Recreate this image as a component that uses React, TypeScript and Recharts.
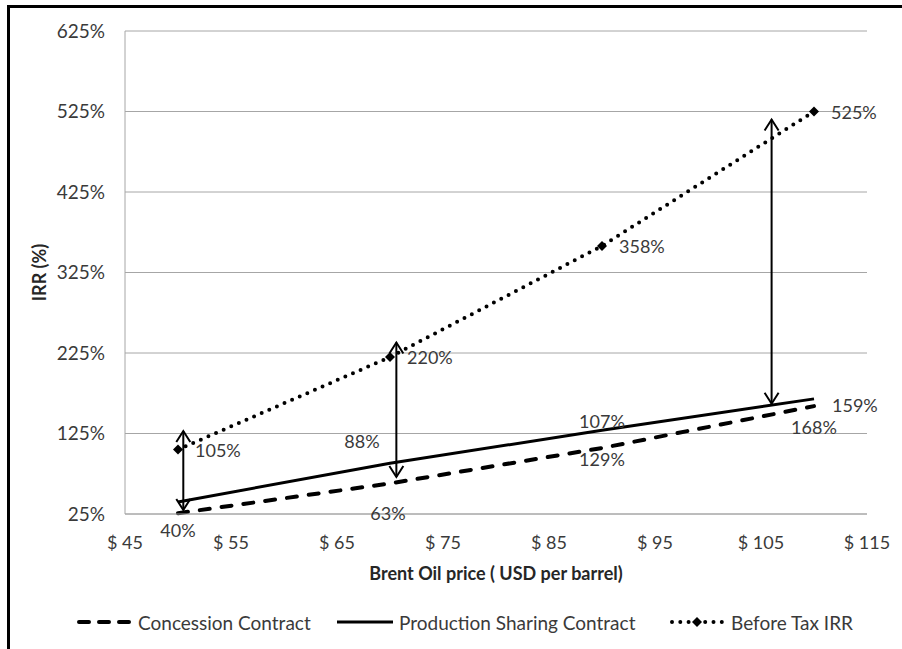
import {
  LineChart,
  Line,
  XAxis,
  YAxis,
  CartesianGrid,
  Legend,
  ReferenceLine,
} from "recharts"

const prices = [50, 70, 90, 110]
const concession = [26, 63, 107, 159]
const productionSharing = [40, 88, 129, 168]
const beforeTax = [105, 220, 358, 525]

const xTicks = [45, 55, 65, 75, 85, 95, 105, 115]
const yTicks = [25, 125, 225, 325, 425, 525, 625]

// double-headed arrows drawn between the curves (data coords)
const arrowX = [50.5, 70.6, 106]
const arrowTop = [128, 238, 515]
const arrowBottom = [30, 71, 162]

const data = prices.map((price, i) => ({
  price,
  concession: concession[i],
  psc: productionSharing[i],
  beforeTax: beforeTax[i],
}))

const FONT = "Lato, 'Open Sans', sans-serif"
const TEXT = "#3a3a3a"
const GRID = "#a6a6a6"

type LabelPos = { dx: number; dy: number; anchor: "start" | "middle" | "end" } | null

const concessionLabels: LabelPos[] = [
  null,
  { dx: -2, dy: 30, anchor: "middle" },
  { dx: 0, dy: -26, anchor: "middle" },
  { dx: 18, dy: 0, anchor: "start" },
]
const pscLabels: LabelPos[] = [
  { dx: 0, dy: 29, anchor: "middle" },
  { dx: -28, dy: -22, anchor: "middle" },
  { dx: 0, dy: 29, anchor: "middle" },
  { dx: 0, dy: 29, anchor: "middle" },
]
const beforeTaxLabels: LabelPos[] = [
  { dx: 17, dy: 1, anchor: "start" },
  { dx: 17, dy: 1, anchor: "start" },
  { dx: 17, dy: 1, anchor: "start" },
  { dx: 17, dy: 1, anchor: "start" },
]

const makeDot = (name: string, labels: LabelPos[], marker: boolean) => (props: any) => {
  const { cx, cy, index, value } = props
  const pos = labels[index]
  return (
    <g key={`${name}-${index}`}>
      {marker && (
        <path
          d={`M${cx},${cy - 5} L${cx + 5},${cy} L${cx},${cy + 5} L${cx - 5},${cy} Z`}
          fill="#000"
        />
      )}
      {pos && (
        <text
          x={cx + pos.dx}
          y={cy + pos.dy}
          dy="0.35em"
          textAnchor={pos.anchor}
          fill={TEXT}
          fontSize={18}
          fontFamily={FONT}
        >
          {value}%
        </text>
      )}
    </g>
  )
}

const arrowShape = (p: any) => {
  const { x1, y1, y2 } = p
  const top = Math.min(y1, y2)
  const bot = Math.max(y1, y2)
  return (
    <g>
      <line x1={x1} y1={top} x2={x1} y2={bot} stroke="#000" strokeWidth={2} />
      <polyline
        points={`${x1 - 7},${top + 11} ${x1},${top} ${x1 + 7},${top + 11}`}
        fill="none"
        stroke="#000"
        strokeWidth={2}
      />
      <polyline
        points={`${x1 - 7},${bot - 11} ${x1},${bot} ${x1 + 7},${bot - 11}`}
        fill="none"
        stroke="#000"
        strokeWidth={2}
      />
    </g>
  )
}

const yLabel = (props: any) => {
  const vb = props.viewBox || { x: 0, y: 31, width: 125, height: 483 }
  const cx = vb.x + 40
  const cy = vb.y + vb.height / 2
  return (
    <text
      x={cx}
      y={cy}
      transform={`rotate(-90, ${cx}, ${cy})`}
      textAnchor="middle"
      dy="0.35em"
      fontWeight="bold"
      fontSize={18}
      fontFamily={FONT}
      fill="#262626"
    >
      IRR (%)
    </text>
  )
}

function LegendSample({ kind }: { kind: "dash" | "solid" | "dot" }) {
  return (
    <svg width={56} height={30}>
      {kind === "dash" && (
        <line x1={3} y1={15} x2={53} y2={15} stroke="#000" strokeWidth={4} strokeDasharray="10 10" strokeLinecap="round" />
      )}
      {kind === "solid" && <line x1={0} y1={15} x2={56} y2={15} stroke="#000" strokeWidth={3} />}
      {kind === "dot" && (
        <g>
          <line x1={3} y1={15} x2={53} y2={15} stroke="#000" strokeWidth={4} strokeDasharray="0 8.3" strokeLinecap="round" />
          <path d="M28,10 L33,15 L28,20 L23,15 Z" fill="#000" />
        </g>
      )}
    </svg>
  )
}

const legendItems: { left: number; kind: "dash" | "solid" | "dot"; label: string }[] = [
  { left: 76, kind: "dash", label: "Concession Contract" },
  { left: 337, kind: "solid", label: "Production Sharing Contract" },
  { left: 669, kind: "dot", label: "Before Tax IRR" },
]

const renderLegend = () => (
  <div style={{ position: "relative", width: 902, height: 30, fontFamily: FONT, fontSize: 19, color: TEXT }}>
    {legendItems.map((it) => (
      <div
        key={it.label}
        style={{ position: "absolute", left: it.left, top: 0, height: 30, display: "flex", alignItems: "center" }}
      >
        <LegendSample kind={it.kind} />
        <span style={{ marginLeft: 6, whiteSpace: "nowrap" }}>{it.label}</span>
      </div>
    ))}
  </div>
)

export default function App() {
  return (
    <div style={{ position: "absolute", left: 0, top: 0, width: 902, height: 649, overflow: "hidden", background: "#fff" }}>
      <div
        style={{
          position: "absolute",
          left: 7,
          top: 5,
          width: 950,
          height: 700,
          borderTop: "3px solid #000",
          borderLeft: "3px solid #000",
        }}
      />
      <div style={{ position: "absolute", left: 0, top: 0 }}>
        <LineChart width={902} height={649} data={data} margin={{ top: 31, right: 35, left: 0, bottom: 12 }}>
          <CartesianGrid vertical={false} stroke={GRID} strokeWidth={1} />
          <XAxis
            dataKey="price"
            type="number"
            domain={[45, 115]}
            ticks={xTicks}
            interval={0}
            tickFormatter={(v) => `$ ${v}`}
            tickLine={false}
            axisLine={{ stroke: GRID }}
            tickMargin={16}
            height={93}
            tick={{ fill: TEXT, fontSize: 18, fontFamily: FONT }}
            label={{
              value: "Brent Oil price ( USD per barrel)",
              position: "insideBottom",
              offset: 27,
              fill: "#262626",
              fontSize: 18,
              fontWeight: "bold",
              fontFamily: FONT,
            }}
          />
          <YAxis
            type="number"
            domain={[25, 625]}
            ticks={yTicks}
            interval={0}
            tickFormatter={(v) => `${v}%`}
            tickLine={false}
            axisLine={{ stroke: GRID }}
            tickMargin={14}
            width={125}
            tick={{ fill: TEXT, fontSize: 19, fontFamily: FONT }}
            label={{ content: yLabel }}
          />
          <Legend
            verticalAlign="bottom"
            content={renderLegend}
            wrapperStyle={{ left: 0, width: 902, height: 30 }}
          />
          <Line
            type="linear"
            dataKey="concession"
            name="Concession Contract"
            stroke="#000"
            strokeWidth={4}
            strokeDasharray="10 12"
            strokeLinecap="round"
            dot={makeDot("con", concessionLabels, false)}
            activeDot={false}
            isAnimationActive={false}
          />
          <Line
            type="linear"
            dataKey="psc"
            name="Production Sharing Contract"
            stroke="#000"
            strokeWidth={3}
            dot={makeDot("psc", pscLabels, false)}
            activeDot={false}
            isAnimationActive={false}
          />
          <Line
            type="linear"
            dataKey="beforeTax"
            name="Before Tax IRR"
            stroke="#000"
            strokeWidth={4}
            strokeDasharray="0 8.3"
            strokeLinecap="round"
            dot={makeDot("bt", beforeTaxLabels, true)}
            activeDot={false}
            isAnimationActive={false}
          />
          {arrowX.map((x, i) => (
            <ReferenceLine
              key={`arrow-${i}`}
              segment={[
                { x, y: arrowTop[i] },
                { x, y: arrowBottom[i] },
              ]}
              shape={arrowShape}
            />
          ))}
        </LineChart>
      </div>
    </div>
  )
}
